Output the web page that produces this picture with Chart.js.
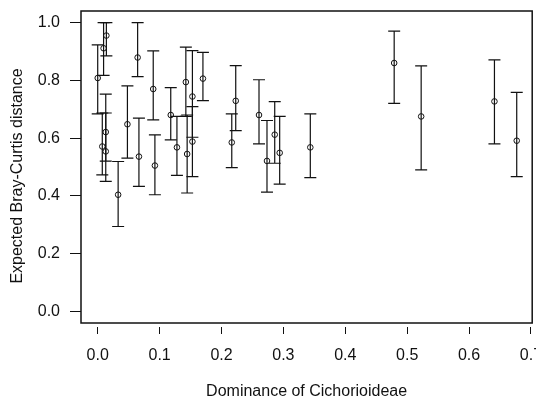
<!DOCTYPE html>
<html>
<head>
<meta charset="utf-8">
<script src="https://cdn.jsdelivr.net/npm/chart.js@4.4.1/dist/chart.umd.min.js"></script>
<style>
  html, body { margin: 0; padding: 0; background: #ffffff; }
  #wrap { width: 536px; height: 401px; }
</style>
</head>
<body>
<div id="wrap"><canvas id="chart" width="536" height="401"></canvas></div>
<script>
// Dominance of Cichorioideae per community
const dominance = [0.000, 0.0095, 0.014, 0.013, 0.0074, 0.013, 0.0645, 0.0897, 0.048, 0.0666,
                   0.033, 0.0924, 0.118, 0.128, 0.1424, 0.1445, 0.153, 0.153, 0.170, 0.2166,
                   0.223, 0.2606, 0.2735, 0.286, 0.294, 0.3435, 0.479, 0.5226, 0.641, 0.677];
// Expected Bray-Curtis distance (point estimate)
const expected = [0.808, 0.911, 0.955, 0.621, 0.571, 0.554, 0.879, 0.770, 0.648, 0.536,
                  0.404, 0.505, 0.680, 0.568, 0.794, 0.545, 0.588, 0.744, 0.806, 0.585,
                  0.729, 0.680, 0.521, 0.612, 0.549, 0.568, 0.860, 0.675, 0.727, 0.591];
// Interval bounds
const lower = [0.684, 0.817, 0.885, 0.520, 0.473, 0.450, 0.813, 0.663, 0.531, 0.433,
               0.294, 0.404, 0.594, 0.471, 0.675, 0.410, 0.467, 0.603, 0.730, 0.498,
               0.626, 0.580, 0.413, 0.513, 0.441, 0.463, 0.720, 0.490, 0.580, 0.467];
const upper = [0.923, 1.000, 1.000, 0.752, 0.687, 0.687, 1.000, 0.902, 0.781, 0.669,
               0.519, 0.611, 0.775, 0.675, 0.915, 0.680, 0.709, 0.903, 0.897, 0.684,
               0.851, 0.802, 0.661, 0.726, 0.675, 0.684, 0.970, 0.850, 0.871, 0.758];

const xTicks = [0.0, 0.1, 0.2, 0.3, 0.4, 0.5, 0.6, 0.7];
const yTicks = [0.0, 0.2, 0.4, 0.6, 0.8, 1.0];

const xTitle = 'Dominance of Cichorioideae';
const yTitle = 'Expected Bray-Curtis distance';

const FONT = { family: '"Liberation Sans", Arial, sans-serif', size: 16 };
const INK = '#111111';

// Vertical interval bars with end caps
const intervalBars = {
  id: 'intervalBars',
  afterDatasetsDraw(chart) {
    const { ctx, scales: { x, y } } = chart;
    const cap = 6;
    ctx.save();
    ctx.strokeStyle = INK;
    ctx.lineWidth = 1.2;
    dominance.forEach((d, i) => {
      const px = x.getPixelForValue(d);
      const yl = y.getPixelForValue(lower[i]);
      const yu = y.getPixelForValue(upper[i]);
      ctx.beginPath();
      ctx.moveTo(px, yl); ctx.lineTo(px, yu);
      ctx.moveTo(px - cap, yl); ctx.lineTo(px + cap, yl);
      ctx.moveTo(px - cap, yu); ctx.lineTo(px + cap, yu);
      ctx.stroke();
    });
    ctx.restore();
  }
};

// Frame around the plotting region and the rotated y title
const frame = {
  id: 'frame',
  afterDraw(chart) {
    const { ctx, chartArea: a } = chart;
    ctx.save();
    ctx.strokeStyle = INK;
    ctx.lineWidth = 1.5;
    ctx.strokeRect(a.left, a.top, a.right - a.left, a.bottom - a.top);
    ctx.fillStyle = INK;
    ctx.font = `${FONT.size}px ${FONT.family}`;
    ctx.textAlign = 'center';
    ctx.textBaseline = 'middle';
    ctx.translate(18, 176);
    ctx.rotate(-Math.PI / 2);
    ctx.fillText(yTitle, 0, 0);
    ctx.restore();
  }
};

new Chart(document.getElementById('chart'), {
  type: 'scatter',
  data: {
    datasets: [{
      data: dominance.map((d, i) => ({ x: d, y: expected[i] })),
      pointStyle: 'circle',
      pointRadius: 2.8,
      pointHoverRadius: 2.8,
      borderWidth: 1,
      borderColor: INK,
      backgroundColor: 'rgba(0,0,0,0)'
    }]
  },
  options: {
    responsive: false,
    animation: false,
    devicePixelRatio: 1,
    layout: { padding: { left: 0, right: 3, top: 11, bottom: 0 } },
    plugins: { legend: { display: false }, tooltip: { enabled: false } },
    scales: {
      x: {
        type: 'linear',
        min: -0.027,
        max: 0.702,
        afterBuildTicks: s => { s.ticks = xTicks.map(v => ({ value: v })); },
        afterFit: s => { s.height = 78; s.paddingLeft = 0; s.paddingRight = 0; },
        border: { display: false },
        grid: {
          drawOnChartArea: false,
          drawTicks: true,
          tickLength: 11,
          tickBorderDash: [0, 4, 7],
          color: INK,
          lineWidth: 1
        },
        ticks: {
          autoSkip: false,
          maxRotation: 0,
          padding: 12,
          color: INK,
          font: FONT,
          callback: v => Number(v).toFixed(1)
        },
        title: {
          display: true,
          text: xTitle,
          color: INK,
          font: FONT,
          padding: { top: 0, bottom: 0 }
        }
      },
      y: {
        type: 'linear',
        min: -0.04,
        max: 1.04,
        afterBuildTicks: s => { s.ticks = yTicks.map(v => ({ value: v })); },
        afterFit: s => { s.width = 81; s.paddingTop = 0; s.paddingBottom = 0; },
        border: { display: false },
        grid: {
          drawOnChartArea: false,
          drawTicks: true,
          tickLength: 11,
          color: INK,
          lineWidth: 1
        },
        ticks: {
          autoSkip: false,
          padding: 10,
          color: INK,
          font: FONT,
          callback: v => Number(v).toFixed(1)
        }
      }
    }
  },
  plugins: [intervalBars, frame]
});
</script>
</body>
</html>
